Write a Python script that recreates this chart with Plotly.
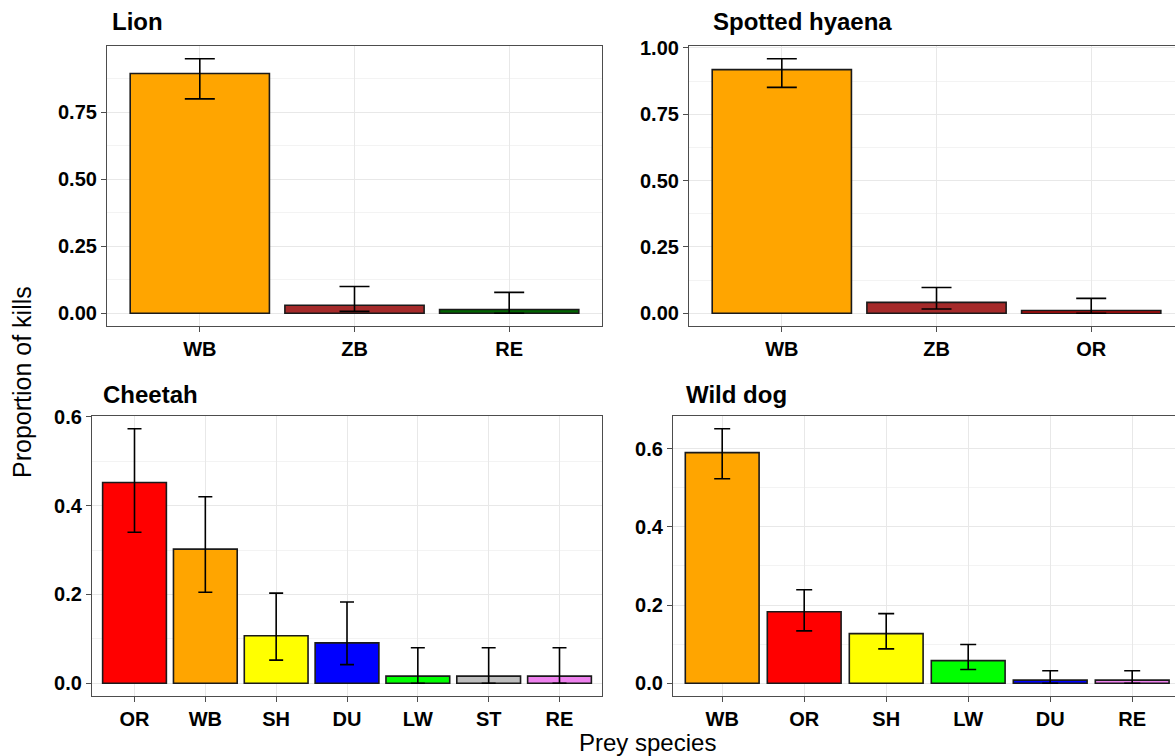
import plotly.graph_objects as go

# ---------------- data ----------------
lion_cats = ["WB", "ZB", "RE"]
lion_vals = [0.895, 0.030, 0.014]
lion_low = [0.800, 0.007, 0.000]
lion_high = [0.950, 0.100, 0.078]
lion_cols = ["#FFA500", "#A52A2A", "#006400"]

hyaena_cats = ["WB", "ZB", "OR"]
hyaena_vals = [0.918, 0.041, 0.010]
hyaena_low = [0.851, 0.016, 0.000]
hyaena_high = [0.959, 0.097, 0.056]
hyaena_cols = ["#FFA500", "#A52A2A", "#FF0000"]

cheetah_cats = ["OR", "WB", "SH", "DU", "LW", "ST", "RE"]
cheetah_vals = [0.452, 0.302, 0.107, 0.091, 0.016, 0.016, 0.016]
cheetah_low = [0.340, 0.205, 0.052, 0.042, 0.000, 0.000, 0.000]
cheetah_high = [0.573, 0.420, 0.203, 0.183, 0.080, 0.080, 0.080]
cheetah_cols = ["#FF0000", "#FFA500", "#FFFF00", "#0000FF", "#00FF00", "#BEBEBE", "#EE82EE"]

dog_cats = ["WB", "OR", "SH", "LW", "DU", "RE"]
dog_vals = [0.590, 0.183, 0.127, 0.058, 0.008, 0.008]
dog_low = [0.523, 0.134, 0.088, 0.035, 0.000, 0.000]
dog_high = [0.651, 0.239, 0.178, 0.099, 0.032, 0.032]
dog_cols = ["#FFA500", "#FF0000", "#FFFF00", "#00FF00", "#0000FF", "#EE82EE"]

titles = ["Lion", "Spotted hyaena", "Cheetah", "Wild dog"]
y_ticks = [[0, 0.25, 0.5, 0.75], [0, 0.25, 0.5, 0.75, 1.0], [0, 0.2, 0.4, 0.6], [0, 0.2, 0.4, 0.6]]
y_ticktext = [["0.00", "0.25", "0.50", "0.75"], ["0.00", "0.25", "0.50", "0.75", "1.00"],
              ["0.0", "0.2", "0.4", "0.6"], ["0.0", "0.2", "0.4", "0.6"]]
y_minor = [0.125, 0.125, 0.1, 0.1]

W, H = 1175, 756
FONT = "Liberation Sans, Arial, Helvetica, sans-serif"

panels = [
    dict(cats=lion_cats, vals=lion_vals, low=lion_low, high=lion_high, cols=lion_cols,
         px=(107, 602), py=(46, 326), xr=[-0.6, 2.6], yr=[-0.0475, 0.9975], cap=15, right=False,
         title_xy=(110, 22)),
    dict(cats=hyaena_cats, vals=hyaena_vals, low=hyaena_low, high=hyaena_high, cols=hyaena_cols,
         px=(689, 1175), py=(46, 326), xr=[-0.6, -0.6 + (1175 - 689) / 154.7], yr=[-0.048, 1.007], cap=15,
         right=True, title_xy=(711, 22)),
    dict(cats=cheetah_cats, vals=cheetah_vals, low=cheetah_low, high=cheetah_high, cols=cheetah_cols,
         px=(92, 602), py=(416, 696), xr=[-0.6, 6.6], yr=[-0.0287, 0.6017], cap=7, right=False,
         title_xy=(101, 394)),
    dict(cats=dog_cats, vals=dog_vals, low=dog_low, high=dog_high, cols=dog_cols,
         px=(673, 1175), py=(416, 696), xr=[-0.6, -0.6 + (1175 - 673) / 82.0], yr=[-0.0326, 0.6836], cap=8,
         right=True, title_xy=(684, 394)),
]

fig = go.Figure()
layout = dict(
    width=W, height=H, margin=dict(l=0, r=0, t=0, b=0, pad=0), autosize=False,
    paper_bgcolor="white", plot_bgcolor="white", showlegend=False,
    font=dict(family=FONT, color="black"),
)
annotations = []
BORDER = "#4D4D4D"

for i, p in enumerate(panels):
    n = i + 1
    xa = "x" if n == 1 else f"x{n}"
    ya = "y" if n == 1 else f"y{n}"
    up = [h - v for h, v in zip(p["high"], p["vals"])]
    dn = [v - l for v, l in zip(p["vals"], p["low"])]
    fig.add_trace(go.Bar(
        x=p["cats"], y=p["vals"], width=0.9, xaxis=xa, yaxis=ya,
        marker=dict(color=p["cols"], line=dict(color="#1a1a1a", width=1.6)),
        error_y=dict(type="data", symmetric=False, array=up, arrayminus=dn,
                     color="black", thickness=1.6, width=p["cap"]),
        hoverinfo="skip",
    ))
    xd = [p["px"][0] / W, p["px"][1] / W]
    yd = [1 - p["py"][1] / H, 1 - p["py"][0] / H]
    layout[f"xaxis{'' if n == 1 else n}"] = dict(
        domain=xd, anchor=ya, type="category", range=p["xr"], automargin=False,
        categoryorder="array", categoryarray=p["cats"],
        showgrid=True, gridcolor="#E8E8E8", gridwidth=1,
        showline=True, linecolor=BORDER, linewidth=1.2, mirror=True,
        ticks="outside", ticklen=5, tickcolor=BORDER, tickwidth=1.2,
        tickfont=dict(family=FONT, size=20, color="black", weight="bold"),
        zeroline=False, fixedrange=True,
    )
    layout[f"yaxis{'' if n == 1 else n}"] = dict(
        domain=yd, anchor=xa, range=p["yr"], automargin=False,
        tickvals=y_ticks[i], ticktext=y_ticktext[i],
        showgrid=True, gridcolor="#E8E8E8", gridwidth=1,
        minor=dict(dtick=y_minor[i] * 2, tick0=y_minor[i], showgrid=True, gridcolor="#F3F3F3", gridwidth=1,
                   ticks=""),
        showline=True, linecolor=BORDER, linewidth=1.2, mirror=(not p["right"]),
        ticks="outside", ticklen=5, tickcolor=BORDER, tickwidth=1.2,
        tickfont=dict(family=FONT, size=20, color="black", weight="bold"),
        zeroline=False, fixedrange=True,
    )
    annotations.append(dict(
        text=titles[i], x=p["title_xy"][0] / W, y=1 - p["title_xy"][1] / H,
        xref="paper", yref="paper", xanchor="left", yanchor="middle", showarrow=False,
        font=dict(family=FONT, size=24, color="black", weight="bold"),
    ))

annotations.append(dict(
    text="Proportion of kills", x=22 / W, y=1 - 382 / H, xref="paper", yref="paper",
    xanchor="center", yanchor="middle", textangle=-90, showarrow=False,
    font=dict(family=FONT, size=25, color="black"),
))
annotations.append(dict(
    text="Prey species", x=647 / W, y=1 - 742 / H, xref="paper", yref="paper",
    xanchor="center", yanchor="middle", showarrow=False,
    font=dict(family=FONT, size=24, color="black"),
))
layout["annotations"] = annotations
fig.update_layout(**layout)
fig.write_html(
    "out.html",
    config={"displayModeBar": False},
    post_script="document.body.style.margin='0';document.body.style.overflow='hidden';",
)
